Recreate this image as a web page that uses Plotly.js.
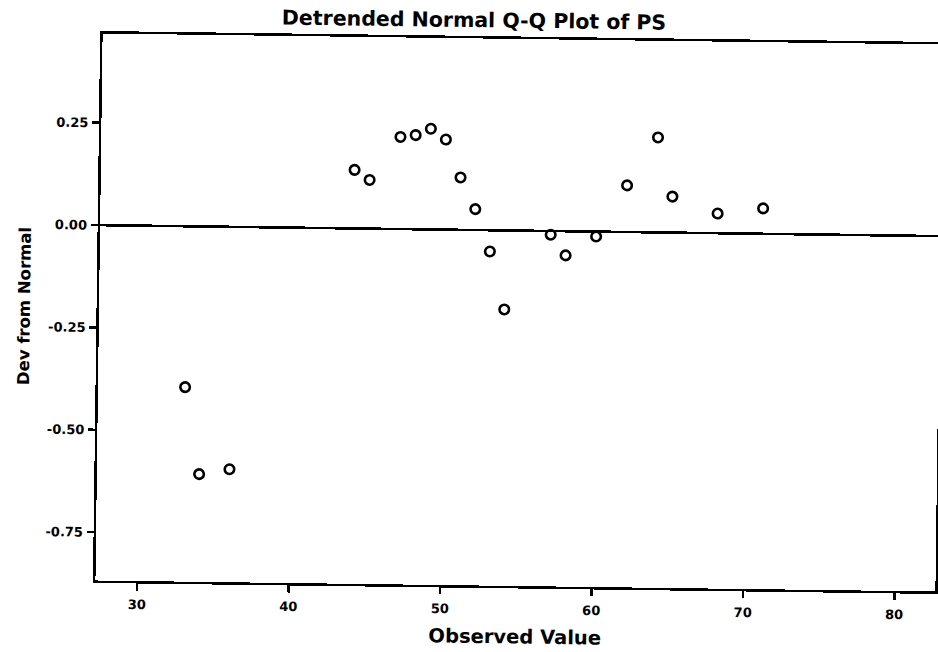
<!DOCTYPE html>
<html>
<head>
<meta charset="utf-8">
<script src="https://cdn.plot.ly/plotly-3.0.1.min.js"></script>
<style>
  html, body { margin: 0; padding: 0; width: 938px; height: 652px; overflow: hidden; background: #fff; }
  #chart { width: 960px; height: 652px; transform-origin: 518.7px 312.5px; transform: rotate(0.75deg); }
</style>
</head>
<body>
<div id="chart"></div>
<script>
const observedValue = [33, 34, 36, 44, 45, 47, 48, 49, 50, 51, 52, 53, 54, 57, 58, 60, 62, 64, 65, 68, 71];
const devFromNormal = [-0.393, -0.605, -0.592, 0.143, 0.119, 0.225, 0.230, 0.246, 0.220, 0.128, 0.051, -0.052, -0.193, -0.009, -0.059, -0.012, 0.114, 0.232, 0.088, 0.048, 0.062];

const xTickVals = [30, 40, 50, 60, 70, 80];
const yTickVals = [0.25, 0.00, -0.25, -0.50, -0.75];
const yTickText = ["0.25", "0.00", "-0.25", "-0.50", "-0.75"];

const chartTitle = "Detrended Normal Q-Q Plot of PS";
const xTitle = "Observed Value";
const yTitle = "Dev from Normal";

const FONT = "DejaVu Sans, Arial, sans-serif";

const trace = {
  type: "scatter",
  mode: "markers",
  x: observedValue,
  y: devFromNormal,
  marker: {
    symbol: "circle-open",
    size: 9.5,
    color: "#000",
    line: { color: "#000", width: 2.6 }
  },
  hoverinfo: "x+y"
};

const layout = {
  width: 960,
  height: 652,
  margin: { l: 99, r: 21, t: 39, b: 66 },
  paper_bgcolor: "#fff",
  plot_bgcolor: "#fff",
  showlegend: false,
  font: { family: FONT, color: "#000", weight: 700 },
  title: {
    text: chartTitle,
    font: { family: FONT, size: 20.5, weight: 700, color: "#000" },
    xref: "paper",
    x: 0.442,
    xanchor: "center",
    yref: "container",
    y: 1 - 20.5 / 652,
    yanchor: "middle"
  },
  xaxis: {
    range: [27.25, 82.7],
    tickvals: xTickVals,
    ticks: "outside",
    ticklen: 7,
    tickwidth: 2.5,
    tickcolor: "#000",
    ticklabelstandoff: 3,
    tickfont: { family: FONT, size: 13, weight: 700, color: "#000" },
    showgrid: false,
    zeroline: false,
    showline: true,
    linecolor: "#000",
    linewidth: 2.5,
    mirror: true,
    automargin: false,
    title: {
      text: xTitle,
      font: { family: FONT, size: 19.5, weight: 700, color: "#000" },
      standoff: 14
    }
  },
  yaxis: {
    range: [-0.868, 0.468],
    tickvals: yTickVals,
    ticktext: yTickText,
    ticks: "outside",
    ticklen: 7,
    tickwidth: 2.5,
    tickcolor: "#000",
    ticklabelstandoff: 1,
    tickfont: { family: FONT, size: 13, weight: 700, color: "#000" },
    showgrid: false,
    zeroline: true,
    zerolinecolor: "#000",
    zerolinewidth: 2.6,
    showline: true,
    linecolor: "#000",
    linewidth: 2.5,
    mirror: true,
    automargin: false,
    title: {
      text: yTitle,
      font: { family: FONT, size: 16.5, weight: 700, color: "#000" },
      standoff: 14
    }
  }
};

Plotly.newPlot("chart", [trace], layout, { displayModeBar: false, staticPlot: true });
</script>
</body>
</html>
